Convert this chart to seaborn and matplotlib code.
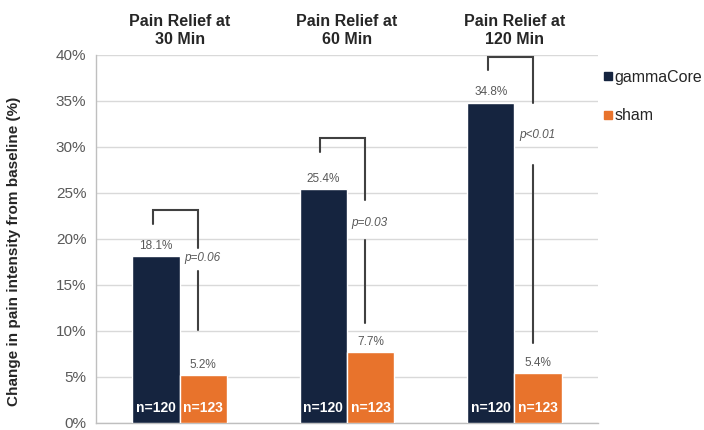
import matplotlib
matplotlib.use("Agg")
import matplotlib.pyplot as plt
import seaborn as sns
import pandas as pd
from matplotlib.lines import Line2D

# ---- data ----
timepoints = ["30 Min", "60 Min", "120 Min"]
groups = ["gammaCore", "sham"]
gammacore_vals = [18.1, 25.4, 34.8]
sham_vals = [5.2, 7.7, 5.4]
gammacore_n = ["n=120", "n=120", "n=120"]
sham_n = ["n=123", "n=123", "n=123"]
p_labels = ["p=0.06", "p=0.03", "p<0.01"]
titles = ["Pain Relief at\n30 Min", "Pain Relief at\n60 Min", "Pain Relief at\n120 Min"]
yticks = [0, 5, 10, 15, 20, 25, 30, 35, 40]

# annotation geometry (in % units)
br_top = [23.2, 31.0, 39.8]
br_left_low = [21.6, 29.5, 38.4]
br_right_low = [19.0, 24.2, 34.8]
p_y = [17.9, 21.7, 31.3]
line_top = [16.5, 19.9, 28.0]
line_bot = [10.1, 10.9, 8.7]

navy = "#15243F"
orange = "#E8732C"
grey_txt = "#595959"

df = pd.DataFrame({
    "time": timepoints * 2,
    "group": [groups[0]] * 3 + [groups[1]] * 3,
    "value": gammacore_vals + sham_vals,
})

sns.set_style("white")
plt.rcParams["font.family"] = ["Liberation Sans", "DejaVu Sans"]

fig = plt.figure(figsize=(7.04, 4.30), dpi=100)
ax = fig.add_axes([0.1364, 0.0163, 0.7131, 0.8558])

sns.barplot(data=df, x="time", y="value", hue="group", order=timepoints,
            hue_order=groups, palette=[navy, orange], width=0.565,
            saturation=1, ax=ax, legend=False, zorder=3)

ax.set_ylim(0, 40)
ax.set_xlim(-0.5, 2.5)
ax.set_yticks(yticks)
ax.set_yticklabels([f"{t}%" for t in yticks], fontsize=11, color=grey_txt)
ax.yaxis.grid(True, color="#D9D9D9", linewidth=1, zorder=0)
ax.set_axisbelow(True)
ax.set_xticks([-0.5, 0.5, 1.5, 2.5])
ax.set_xticklabels([])
ax.tick_params(axis="x", direction="out", length=5, color="#BFBFBF", width=1)
ax.tick_params(axis="y", direction="out", length=3, color="#D9D9D9", width=1, pad=4)
for s in ["top", "right"]:
    ax.spines[s].set_visible(False)
for s in ["left", "bottom"]:
    ax.spines[s].set_color("#BFBFBF")
    ax.spines[s].set_linewidth(1)
ax.set_xlabel("")
ax.set_ylabel("Change in pain intensity from baseline (%)", fontsize=11,
              fontweight="bold", color="#262626")
ax.yaxis.set_label_coords(-0.149, 0.465)

bw = 0.565 / 2
for i in range(3):
    xn = i - bw / 2
    xs = i + bw / 2
    ax.text(xn, gammacore_vals[i] + 0.5, f"{gammacore_vals[i]}%", ha="center",
            va="bottom", fontsize=8.5, color=grey_txt, zorder=5)
    ax.text(xs, sham_vals[i] + 0.5, f"{sham_vals[i]}%", ha="center",
            va="bottom", fontsize=8.5, color=grey_txt, zorder=5)
    ax.text(xn, 1.6, gammacore_n[i], ha="center", va="center", fontsize=10,
            fontweight="bold", color="white", zorder=5)
    ax.text(xs, 1.6, sham_n[i], ha="center", va="center", fontsize=10,
            fontweight="bold", color="white", zorder=5)
    lx = i - 0.16
    rx = i + 0.11
    ax.plot([lx, lx, rx, rx], [br_left_low[i], br_top[i], br_top[i], br_right_low[i]],
            color="#404040", lw=1.5, zorder=6, solid_joinstyle="miter", clip_on=False)
    ax.plot([rx, rx], [line_top[i], line_bot[i]], color="#404040", lw=1.5, zorder=6)
    ax.text(i + 0.135, p_y[i], p_labels[i], ha="center", va="center", fontsize=8.5,
            style="italic", color=grey_txt, zorder=6)
    ax.text(i, 40.9, titles[i], ha="center", va="bottom", fontsize=11.5,
            fontweight="bold", color="#262626", linespacing=1.2)

handles = [Line2D([], [], marker="s", linestyle="", markersize=6,
                  markerfacecolor=c, markeredgecolor=c) for c in [navy, orange]]
fig.legend(handles, groups, loc="upper left", bbox_to_anchor=(0.84, 0.868),
           frameon=False, fontsize=11.5, handlelength=0.5, handletextpad=0.15,
           labelspacing=1.5, labelcolor="#262626", borderpad=0.3)

fig.savefig("out.png", dpi=100)
